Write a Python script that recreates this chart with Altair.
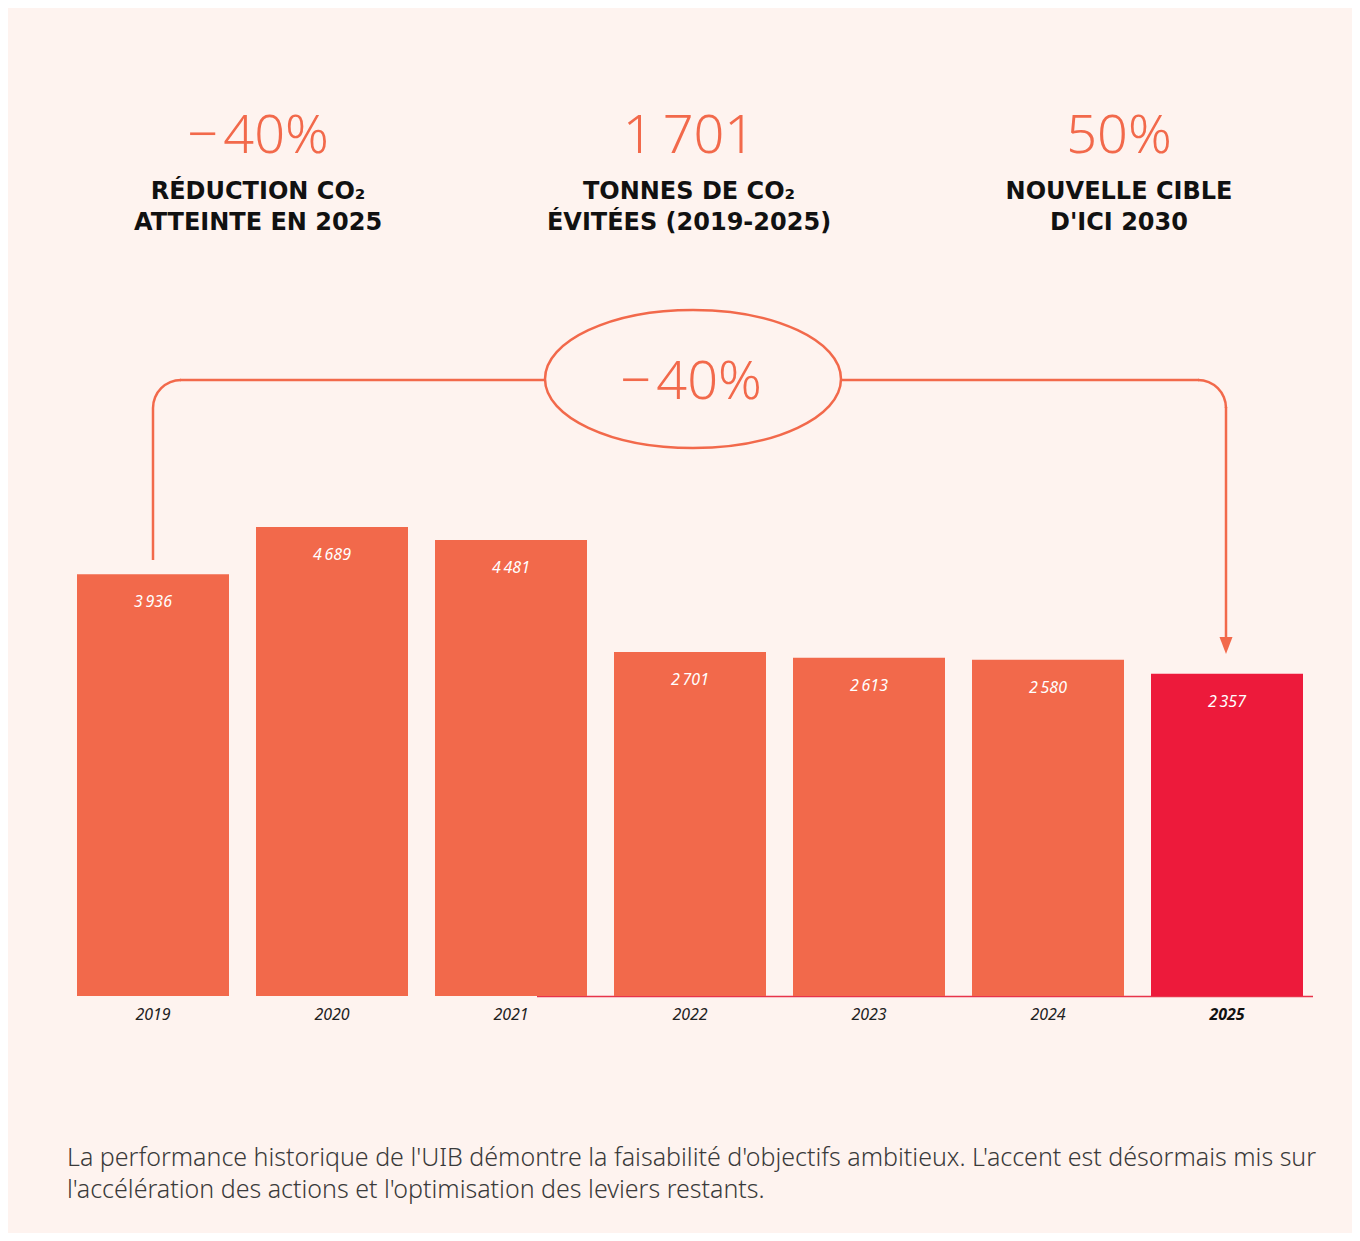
import altair as alt
import pandas as pd

# ---------------- data ----------------
years = ["2019", "2020", "2021", "2022", "2023", "2024", "2025"]
emissions = [3936, 4689, 4481, 2701, 2613, 2580, 2357]
status = ["historique"] * 6 + ["actuel"]

kpi_values = ["\u2212\u200a40%", "1\u2009701", "50%"]
kpi_line1 = ["RÉDUCTION CO\u2082", "TONNES DE CO\u2082", "NOUVELLE CIBLE"]
kpi_line2 = ["ATTEINTE EN 2025", "ÉVITÉES (2019-2025)", "D'ICI 2030"]
change_label = "\u2212\u200a40%"
footnote_lines = [
    "La performance historique de l'UIB démontre la faisabilité d'objectifs ambitieux. L'accent est désormais mis sur",
    "l'accélération des actions et l'optimisation des leviers restants.",
]

# ---------------- styling ----------------
BG = "#FEF3EF"
ORANGE = "#F2694B"
CRIMSON = "#ED1A3B"
W, H = 1344, 1225
Y_BASE = -2760
NUM_FONT = "Noto Sans"
LABEL_FONT = "Noto Sans"

df = pd.DataFrame({"year": years, "value": emissions, "status": status})
df["label"] = [f"{v:,}".replace(",", "\u2009") for v in emissions]
one = pd.DataFrame({"k": [0]})

x_enc = alt.X("year:N", sort=years, axis=None,
              scale=alt.Scale(range=[69, 1295], paddingInner=27 / 179, paddingOuter=0))
y_scale = alt.Scale(domain=[Y_BASE, 5000], range=[988, 499.3], zero=False, nice=False)

base = alt.Chart(df)

bars = base.mark_bar().encode(
    x=x_enc,
    y=alt.Y("value:Q", scale=y_scale, axis=None),
    y2=alt.datum(Y_BASE),
    color=alt.Color("status:N", scale=alt.Scale(domain=["historique", "actuel"], range=[ORANGE, CRIMSON]), legend=None),
)

bar_labels = base.mark_text(font=LABEL_FONT, fontStyle="italic", fontSize=16,
                            color="white", baseline="alphabetic", dy=33).encode(
    x=x_enc, y=alt.Y("value:Q", scale=y_scale, axis=None), text="label:N")

year_labels = base.transform_filter(alt.datum.status == "historique").mark_text(
    font=LABEL_FONT, fontStyle="italic", fontSize=16, color="#222222",
    baseline="alphabetic").encode(x=x_enc, y=alt.value(1012), text="year:N")
year_label_last = base.transform_filter(alt.datum.status == "actuel").mark_text(
    font=LABEL_FONT, fontStyle="italic", fontWeight="bold", fontSize=16, color="#111111",
    baseline="alphabetic").encode(x=x_enc, y=alt.value(1012), text="year:N")

deco = alt.Chart(one)
baseline_rule = deco.mark_rule(color="#E8334A", strokeWidth=1.5).encode(
    x=alt.value(529), x2=alt.value(1305), y=alt.value(988.5))

LW = 2.5
left_v = deco.mark_rule(color=ORANGE, strokeWidth=LW).encode(x=alt.value(145), y=alt.value(400), y2=alt.value(552))
left_arc = deco.mark_arc(color=ORANGE, radius=28 + LW / 2, radius2=28 - LW / 2, theta=4.7124, theta2=6.2832).encode(
    x=alt.value(173), y=alt.value(400))
left_h = deco.mark_rule(color=ORANGE, strokeWidth=LW).encode(x=alt.value(172), x2=alt.value(538), y=alt.value(372))
right_h = deco.mark_rule(color=ORANGE, strokeWidth=LW).encode(x=alt.value(832), x2=alt.value(1191), y=alt.value(372))
right_arc = deco.mark_arc(color=ORANGE, radius=28 + LW / 2, radius2=28 - LW / 2, theta=0, theta2=1.5708).encode(
    x=alt.value(1190), y=alt.value(400))
right_v = deco.mark_rule(color=ORANGE, strokeWidth=LW).encode(x=alt.value(1218), y=alt.value(399), y2=alt.value(632))
arrow = deco.mark_point(shape="M -0.765 -1 L 0.765 -1 L 0 1 Z", size=289, filled=True, opacity=1,
                        color=ORANGE, strokeWidth=0).encode(x=alt.value(1218), y=alt.value(637.5))
ellipse = deco.mark_point(shape="M -1 0 A 1 0.4662 0 1 1 1 0 A 1 0.4662 0 1 1 -1 0 Z", size=87616,
                          filled=False, opacity=1, color=ORANGE, strokeWidth=LW).encode(
    x=alt.value(685), y=alt.value(371))
ellipse_text = deco.mark_text(font=NUM_FONT, fontWeight=300, fontSize=54, color=ORANGE,
                              baseline="alphabetic", align="center").encode(
    x=alt.value(683), y=alt.value(391), text=alt.value(change_label))

kpi_x = [250, 681, 1111]
kpi_layers = []
for i in range(3):
    kpi_layers.append(deco.mark_text(font=NUM_FONT, fontWeight=300, fontSize=54, color=ORANGE,
                                     baseline="alphabetic", align="center").encode(
        x=alt.value(kpi_x[i]), y=alt.value(145), text=alt.value(kpi_values[i])))
    kpi_layers.append(deco.mark_text(font="DejaVu Sans", fontWeight="bold", fontSize=24, color="#111111",
                                     baseline="alphabetic", align="center", lineHeight=31).encode(
        x=alt.value(kpi_x[i]), y=alt.value(191), text=alt.value([kpi_line1[i], kpi_line2[i]])))

footnote = deco.mark_text(font="Noto Sans", fontWeight=300, fontSize=25, color="#3A3A3A",
                          baseline="alphabetic", align="left", lineHeight=32).encode(
    x=alt.value(59), y=alt.value(1158), text=alt.value(footnote_lines))

chart = alt.layer(
    baseline_rule, bars, bar_labels, year_labels, year_label_last,
    left_v, left_arc, left_h, right_h, right_arc, right_v, arrow, ellipse, ellipse_text,
    *kpi_layers, footnote,
).properties(width=W, height=H, background=BG, padding=0,
             autosize=alt.AutoSizeParams(type="none")).configure_view(stroke=None)

chart.save("out.html", embed_options={"renderer": "svg", "actions": False})
